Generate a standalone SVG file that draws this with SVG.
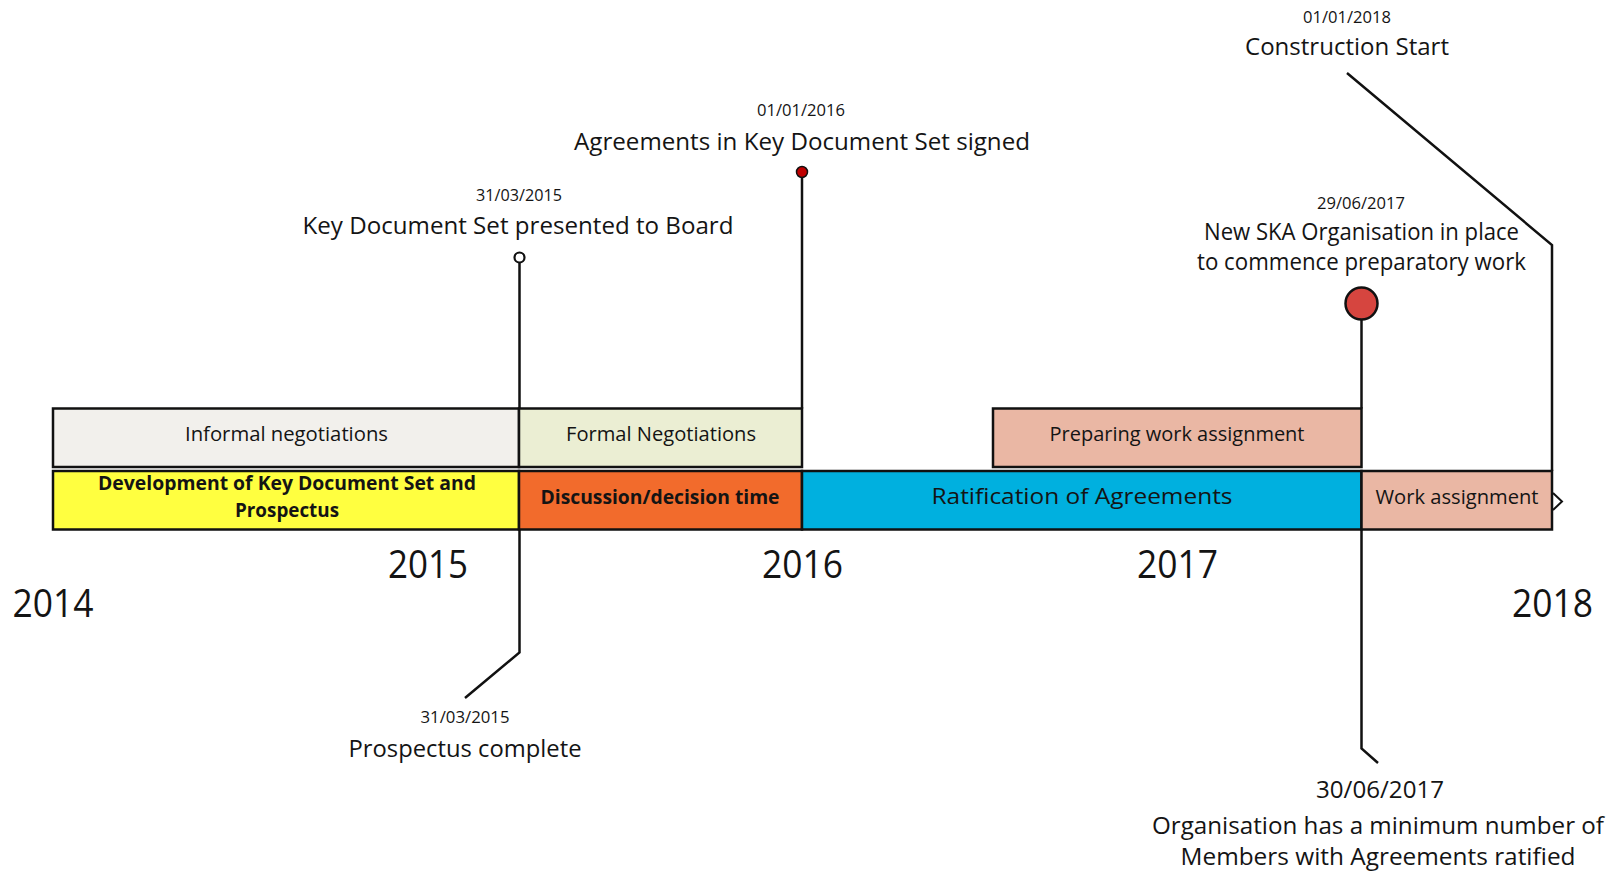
<svg xmlns="http://www.w3.org/2000/svg" width="1615" height="872" viewBox="0 0 1615 872">
  <style>
    text { font-family: "Open Sans", "Noto Sans", "Liberation Sans", sans-serif; fill: #141414; text-anchor: middle; }
    .bar { stroke: #111; stroke-width: 2.5; }
    .lbl { font-size: 20px; }
    .bold { font-size: 19px; font-weight: bold; }
    .big { font-size: 23.5px; }
    .date { font-size: 15.5px; }
    .year { font-size: 38px; }
    .lead { fill: none; stroke: #111; stroke-width: 2.5; stroke-linejoin: miter; }
  </style>
  <rect width="1615" height="872" fill="#ffffff"/>

  <!-- upper row: negotiation phases -->
  <g id="informal-negotiations">
    <rect class="bar" x="53" y="408.5" width="466" height="58.5" fill="#f2f0ec"/>
    <text class="lbl" x="286.5" y="441" textLength="203" lengthAdjust="spacingAndGlyphs">Informal negotiations</text>
  </g>
  <g id="formal-negotiations">
    <rect class="bar" x="519" y="408.5" width="283" height="58.5" fill="#ebeed3"/>
    <text class="lbl" x="661" y="441" textLength="190" lengthAdjust="spacingAndGlyphs">Formal Negotiations</text>
  </g>
  <g id="preparing-work-assignment">
    <rect class="bar" x="993" y="408.5" width="368.5" height="58.5" fill="#eab7a4"/>
    <text class="lbl" x="1177" y="441" textLength="255" lengthAdjust="spacingAndGlyphs">Preparing work assignment</text>
  </g>

  <!-- lower row: main timeline bar -->
  <g id="development">
    <rect class="bar" x="53" y="471" width="466" height="58.5" fill="#ffff40"/>
    <text class="bold" x="287" y="489.5" textLength="378" lengthAdjust="spacingAndGlyphs">Development of Key Document Set and</text>
    <text class="bold" x="287" y="517" textLength="104" lengthAdjust="spacingAndGlyphs">Prospectus</text>
  </g>
  <g id="discussion">
    <rect class="bar" x="519" y="471" width="283" height="58.5" fill="#f26b2c"/>
    <text class="bold" x="660" y="503.5" textLength="239" lengthAdjust="spacingAndGlyphs">Discussion/decision time</text>
  </g>
  <g id="ratification">
    <rect class="bar" x="802" y="471" width="559.5" height="58.5" fill="#00b0df"/>
    <text x="1082" y="504" font-size="22" textLength="301" lengthAdjust="spacingAndGlyphs">Ratification of Agreements</text>
  </g>
  <g id="work-assignment">
    <rect class="bar" x="1361.5" y="471" width="190.5" height="58.5" fill="#eab7a4"/>
    <text x="1457" y="504" font-size="20.5" textLength="163" lengthAdjust="spacingAndGlyphs">Work assignment</text>
    <polyline points="1553,493 1562,501.5 1553,510" fill="none" stroke="#111" stroke-width="2"/>
  </g>

  <!-- year scale -->
  <g id="years">
    <text class="year" x="53" y="617" textLength="81" lengthAdjust="spacingAndGlyphs">2014</text>
    <text class="year" x="428" y="578" textLength="80" lengthAdjust="spacingAndGlyphs">2015</text>
    <text class="year" x="802.5" y="578" textLength="81" lengthAdjust="spacingAndGlyphs">2016</text>
    <text class="year" x="1177.5" y="578" textLength="81" lengthAdjust="spacingAndGlyphs">2017</text>
    <text class="year" x="1552.5" y="617" textLength="81" lengthAdjust="spacingAndGlyphs">2018</text>
  </g>

  <!-- milestone leader lines -->
  <g id="connectors">
    <line class="lead" x1="519.5" y1="262.5" x2="519.5" y2="408.5"/>
    <polyline class="lead" points="519.5,529.5 519.5,652.5 465,698"/>
    <line class="lead" x1="802" y1="177" x2="802" y2="408.5"/>
    <line class="lead" x1="1361.5" y1="319" x2="1361.5" y2="408.5"/>
    <polyline class="lead" points="1361.5,529.5 1361.5,748.5 1378,763"/>
    <polyline class="lead" points="1552,471 1552,245 1347,73"/>
  </g>

  <!-- milestones -->
  <g id="ms-board">
    <circle cx="519.5" cy="257.5" r="5" fill="#ffffff" stroke="#111" stroke-width="2.2"/>
    <text class="date" x="519" y="201" textLength="86" lengthAdjust="spacingAndGlyphs">31/03/2015</text>
    <text class="big" x="518" y="234" textLength="431" lengthAdjust="spacingAndGlyphs">Key Document Set presented to Board</text>
  </g>
  <g id="ms-signed">
    <circle cx="802" cy="172" r="5.5" fill="#c00000" stroke="#111" stroke-width="1.5"/>
    <text class="date" x="801" y="116" textLength="88" lengthAdjust="spacingAndGlyphs">01/01/2016</text>
    <text class="big" x="802" y="149.5" textLength="456" lengthAdjust="spacingAndGlyphs">Agreements in Key Document Set signed</text>
  </g>
  <g id="ms-organisation">
    <circle cx="1361.5" cy="303.5" r="16" fill="#d6453f" stroke="#111" stroke-width="2.5"/>
    <text class="date" x="1361" y="209" textLength="88" lengthAdjust="spacingAndGlyphs">29/06/2017</text>
    <text class="big" x="1361.5" y="239.5" textLength="315" lengthAdjust="spacingAndGlyphs">New SKA Organisation in place</text>
    <text class="big" x="1361.5" y="269.5" textLength="329" lengthAdjust="spacingAndGlyphs">to commence preparatory work</text>
  </g>
  <g id="ms-construction">
    <text class="date" x="1347" y="22.5" textLength="88" lengthAdjust="spacingAndGlyphs">01/01/2018</text>
    <text class="big" x="1347" y="54.5" textLength="204" lengthAdjust="spacingAndGlyphs">Construction Start</text>
  </g>
  <g id="ms-prospectus">
    <text class="date" x="465" y="723" textLength="89" lengthAdjust="spacingAndGlyphs">31/03/2015</text>
    <text class="big" x="465" y="757" textLength="233" lengthAdjust="spacingAndGlyphs">Prospectus complete</text>
  </g>
  <g id="ms-members">
    <text class="big" x="1380" y="798" textLength="128" lengthAdjust="spacingAndGlyphs">30/06/2017</text>
    <text class="big" x="1378" y="834" textLength="452" lengthAdjust="spacingAndGlyphs">Organisation has a minimum number of</text>
    <text class="big" x="1378" y="865" textLength="395" lengthAdjust="spacingAndGlyphs">Members with Agreements ratified</text>
  </g>
</svg>
